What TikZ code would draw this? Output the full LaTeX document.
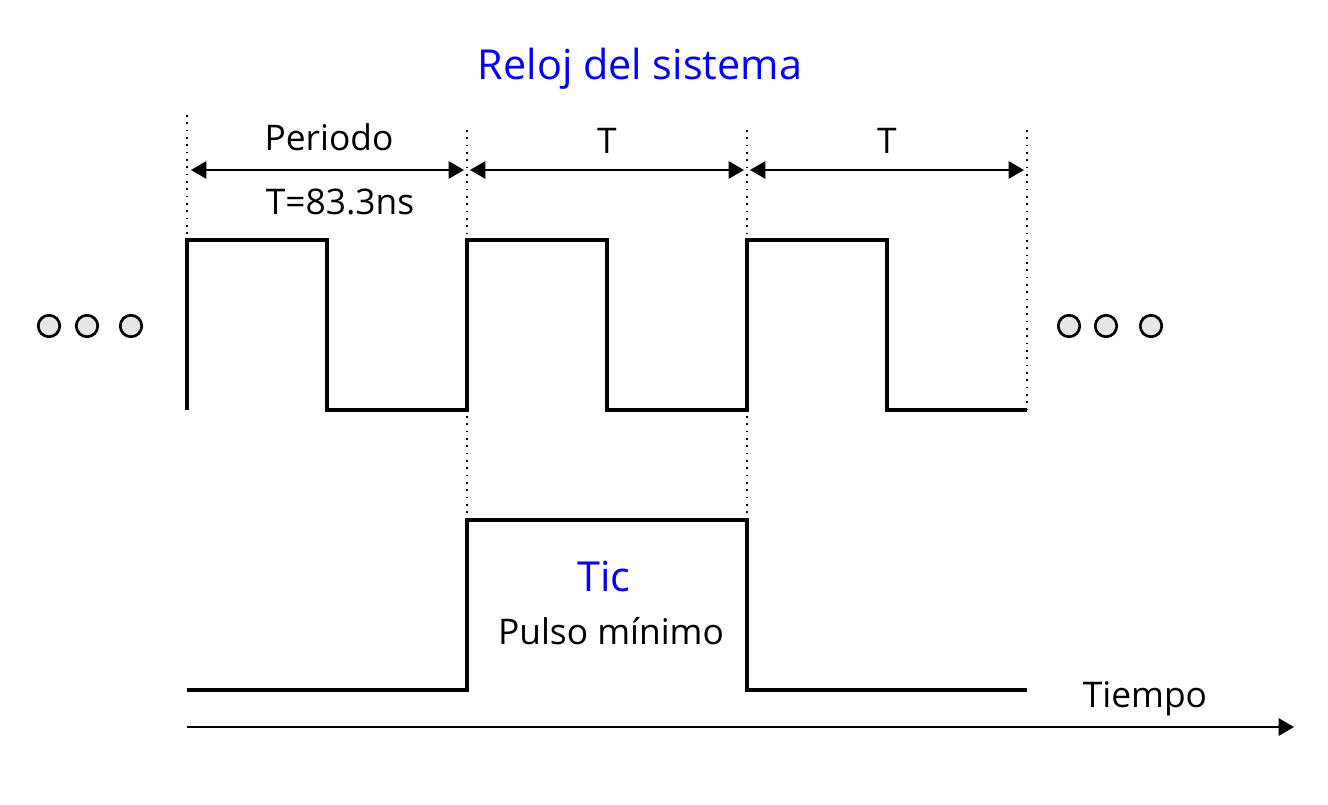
\documentclass[tikz,border=0pt]{standalone}
\usepackage{fontspec}
\setmainfont{Open Sans}
\usetikzlibrary{arrows.meta}
\definecolor{labelblue}{RGB}{0,0,255}
\definecolor{dotgray}{RGB}{230,230,230}
\tikzset{
  wave/.style={line width=2.3pt, line join=miter},
  guide/.style={line width=1.1pt, dash pattern=on 1.2pt off 4.3pt},
  dimarrow/.style={line width=1.3pt, {Triangle[length=11.5pt,width=13pt]}-{Triangle[length=11.5pt,width=13pt]}},
  timearrow/.style={line width=1.3pt, -{Triangle[length=11.5pt,width=13pt]}},
  ell/.style={circle, draw, line width=2pt, fill=dotgray, minimum size=21.5*0.75pt, inner sep=0pt},
  lbl/.style={font=\fontsize{26.5}{32}\selectfont, inner sep=0pt},
  title/.style={font=\fontsize{31}{37}\selectfont, text=labelblue, inner sep=0pt},
}
\begin{document}
\begin{tikzpicture}[x=0.75pt,y=-0.75pt]
\useasboundingbox (0,0) rectangle (1328,805);
% guide coordinates
\coordinate (g0t) at (187,115); \coordinate (g0b) at (187,240);
\coordinate (g1t) at (467,130); \coordinate (g1b) at (467,520);
\coordinate (g2t) at (747,130); \coordinate (g2b) at (747,520);
\coordinate (g3t) at (1027,130); \coordinate (g3b) at (1027,410);
\draw[guide] (g0t) -- (g0b);
\draw[guide] (g1t) -- (g1b);
\draw[guide] (g2t) -- (g2b);
\draw[guide] (g3t) -- (g3b);
% dimension arrows
\coordinate (a0l) at (191,170); \coordinate (a0r) at (464,170);
\coordinate (a1l) at (470,170); \coordinate (a1r) at (744,170);
\coordinate (a2l) at (750,170); \coordinate (a2r) at (1024,170);
\draw[dimarrow] (a0l) -- (a0r);
\draw[dimarrow] (a1l) -- (a1r);
\draw[dimarrow] (a2l) -- (a2r);
\node[lbl] (periodo) at (329,137) {Periodo};
\node[lbl] (tval) at (340,202) {T=83.3ns};
\node[lbl] (t1) at (607,141) {T};
\node[lbl] (t2) at (887,141) {T};
\node[title] (reloj) at (640,69) {Reloj del sistema};
% clock
\draw[wave] (187,410) -- (187,240) -- (327,240) -- (327,410) -- (467,410) -- (467,240)
  -- (607,240) -- (607,410) -- (747,410) -- (747,240) -- (887,240) -- (887,410) -- (1027,410);
% tic pulse
\draw[wave] (187,690) -- (467,690) -- (467,520) -- (747,520) -- (747,690) -- (1027,690);
\node[title] (tic) at (604,577) {Tic};
\node[lbl] (pulso) at (611,631) {Pulso mínimo};
% time axis
\coordinate (ax0) at (187,727); \coordinate (ax1) at (1294,727);
\draw[timearrow] (ax0) -- (ax1);
\node[lbl] (tiempo) at (1145,699) {Tiempo};
% ellipsis circles
\node[ell] (l1) at (49,326) {};
\node[ell] (l2) at (87,326) {};
\node[ell] (l3) at (131,326) {};
\node[ell] (r1) at (1069,326) {};
\node[ell] (r2) at (1106,326) {};
\node[ell] (r3) at (1151,326) {};
\end{tikzpicture}
\end{document}
